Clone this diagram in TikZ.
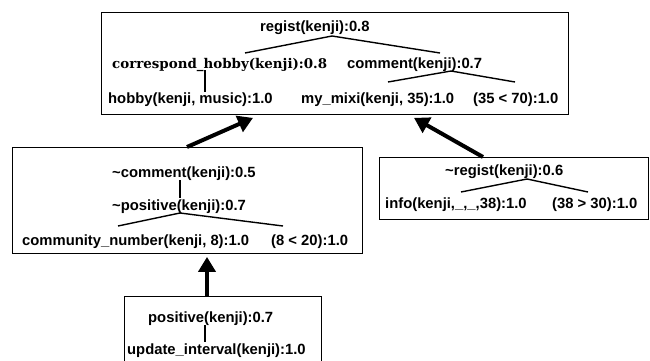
\documentclass[tikz,border=0pt]{standalone}
\usepackage{fontspec}
\newfontfamily\hv{Liberation Sans}
\newfontfamily\dvserif{DejaVu Serif}
\usetikzlibrary{arrows.meta}
\tikzset{
  lbl/.style={anchor=base west, inner sep=0pt, font=\hv\bfseries\fontsize{14.8}{16}\selectfont},
  slbl/.style={anchor=base west, inner sep=0pt, font=\dvserif\bfseries\fontsize{13.4}{15}\selectfont},
  frame/.style={draw, line width=0.9pt, inner sep=0pt},
  tree/.style={line width=1.4pt},
  bigarrow/.style={line width=4pt, -{Triangle[length=15pt,width=17pt]}}
}
\begin{document}
\begin{tikzpicture}[x=1pt,y=-1pt]
\useasboundingbox (0,0) rectangle (650,361);
\clip (0,0) rectangle (650,361);

% boxes
\node[frame, minimum width=467pt, minimum height=102pt, anchor=north west] (topbox) at (101,12) {};
\node[frame, minimum width=350pt, minimum height=106pt, anchor=north west] (midbox) at (12,147) {};
\node[frame, minimum width=269pt, minimum height=62pt, anchor=north west] (rbox) at (379,157) {};
\node[frame, minimum width=197pt, minimum height=70pt, anchor=north west] (botbox) at (124,296) {};

% top box
\node[lbl] (regist) at (260,32) {regist(kenji):0.8};
\node[slbl] (corr) at (112,68) {correspond\_hobby(kenji):0.8};
\node[lbl] (comm) at (347,68) {comment(kenji):0.7};
\node[lbl] (hobby) at (108,103) {hobby(kenji, music):1.0};
\node[lbl] (mixi) at (301,103) {my\_mixi(kenji, 35):1.0};
\node[lbl] (lt70) at (473,103) {(35 < 70):1.0};
\coordinate (r0) at (332,36);
\coordinate (r1) at (245,53);
\coordinate (r2) at (440,53);
\draw[tree] (r1) -- (r0) -- (r2);
\coordinate (c0) at (205,70);
\coordinate (c1) at (205,92);
\draw[tree] (c0) -- (c1);
\coordinate (m0) at (451,71);
\coordinate (m1) at (388,82);
\coordinate (m2) at (515,82);
\draw[tree] (m1) -- (m0) -- (m2);

% middle-left box
\node[lbl] (ncomm) at (112,177) {\char`\~comment(kenji):0.5};
\node[lbl] (npos) at (112,210) {\char`\~positive(kenji):0.7};
\node[lbl] (cnum) at (22,245) {community\_number(kenji, 8):1.0};
\node[lbl] (lt20) at (271,245) {(8 < 20):1.0};
\coordinate (n0) at (180,180);
\coordinate (n1) at (180,198);
\draw[tree] (n0) -- (n1);
\coordinate (p0) at (180,213);
\coordinate (p1) at (118,226);
\coordinate (p2) at (283,226);
\draw[tree] (p1) -- (p0) -- (p2);

% right box
\node[lbl] (nreg) at (445,175) {\char`\~regist(kenji):0.6};
\node[lbl] (info) at (385,208) {info(kenji,\_,\_,38):1.0};
\node[lbl] (gt30) at (552,208) {(38 > 30):1.0};
\coordinate (g0) at (527,179);
\coordinate (g1) at (461,192);
\coordinate (g2) at (588,192);
\draw[tree] (g1) -- (g0) -- (g2);

% bottom box
\node[lbl] (pos) at (148,322) {positive(kenji):0.7};
\node[lbl] (upd) at (127,354) {update\_interval(kenji):1.0};
\coordinate (u0) at (205,325);
\coordinate (u1) at (205,342);
\draw[tree] (u0) -- (u1);

% support arrows
\draw[bigarrow] ([xshift=175pt]midbox.north west) -- ([xshift=152pt,yshift=-3pt]topbox.south west);
\draw[bigarrow] ([xshift=104pt]rbox.north west) -- ([xshift=313pt,yshift=-3pt]topbox.south west);
\draw[bigarrow] ([xshift=83pt]botbox.north west) -- ([xshift=195pt,yshift=-3pt]midbox.south west);
\end{tikzpicture}
\end{document}
